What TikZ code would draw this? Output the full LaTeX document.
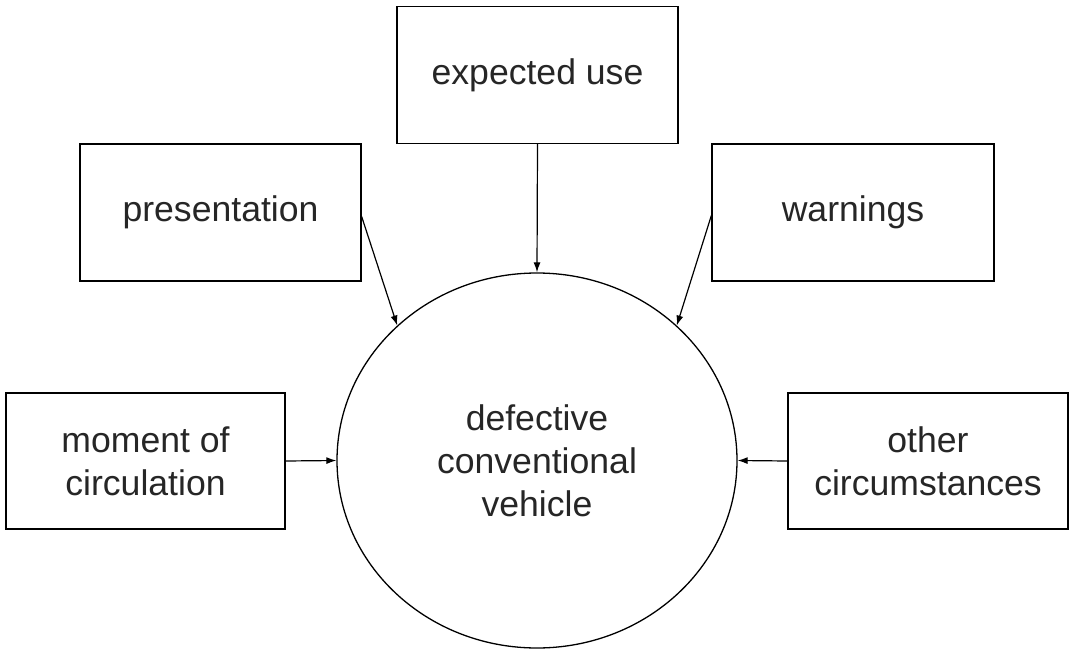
\documentclass[tikz,border=0pt]{standalone}
\usepackage{fontspec}
\setmainfont{Liberation Sans}
\usetikzlibrary{arrows.meta,shapes.geometric,calc}
\begin{document}
\begin{tikzpicture}[x=1pt,y=1pt,
  box/.style={draw, line width=1.3pt, minimum width=281pt, minimum height=137pt, inner sep=0pt, align=center, text=black!85,
    font=\fontsize{35.6}{43}\selectfont},
  conn/.style={line width=1.2pt, -{Latex[length=10pt,width=7pt]}}]
\useasboundingbox (0,0) rectangle (1069,-650);
\node[box] (use) at (537.5,-75) {expected use};
\node[box] (pres) at (220.5,-212.5) {presentation};
\node[box, minimum width=282pt] (warn) at (853,-212.5) {warnings};
\node[box, minimum width=279pt, minimum height=136pt] (mom) at (145.5,-461) {moment of\\circulation};
\node[box, minimum width=280pt, minimum height=136pt] (oth) at (928,-461) {other\\circumstances};
\node[draw, ellipse, line width=1.3pt, minimum width=400pt, minimum height=375pt, inner sep=0pt, align=center, text=black!85,
  font=\fontsize{35.6}{43}\selectfont] (veh) at (537,-460.5) {defective\\conventional\\vehicle};
\draw[conn] (use.south) -- (veh.north);
\draw[conn] ($(pres.east)+(0,-4)$) -- (veh.136);
\draw[conn] ($(warn.west)+(0,-3)$) -- (veh.44);
\draw[conn] (mom.east) -- (veh.west);
\draw[conn] (oth.west) -- (veh.east);
\end{tikzpicture}
\end{document}
